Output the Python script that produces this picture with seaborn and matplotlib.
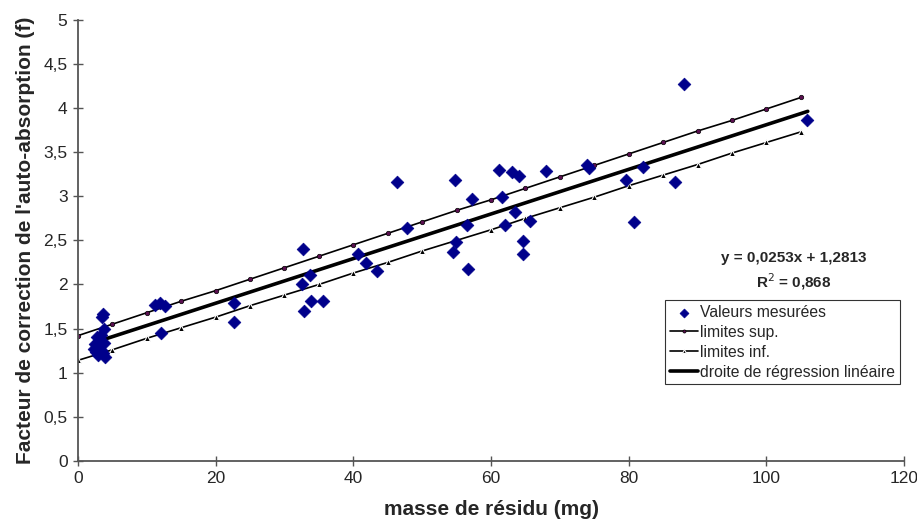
import matplotlib
matplotlib.use("Agg")
import matplotlib.pyplot as plt
import seaborn as sns
import pandas as pd

# measured values (mass of residue in mg, correction factor f)
masse = [2.3, 2.5, 2.6, 2.8, 3.0, 3.1, 3.3, 3.4, 3.6, 3.8, 4.0, 2.9,
         3.5, 3.7, 3.8,
         11.2, 11.9, 12.7, 12.0,
         22.7, 22.7,
         32.7, 33.7, 32.6, 33.9, 32.9, 35.6,
         40.7, 41.8, 43.5, 46.3, 47.8,
         54.8, 54.9, 54.5, 56.5, 56.6, 57.2,
         61.1, 63.0, 64.1, 68.0, 61.6, 63.5, 65.6, 62.0, 64.6, 64.6,
         74.0, 74.2, 79.6, 80.7, 82.0, 86.7, 88.0, 105.9]
facteur = [1.27, 1.33, 1.24, 1.40, 1.30, 1.36, 1.43, 1.26, 1.22, 1.34, 1.18, 1.20,
           1.63, 1.66, 1.50,
           1.77, 1.79, 1.76, 1.45,
           1.79, 1.57,
           2.40, 2.11, 2.01, 1.81, 1.70, 1.81,
           2.35, 2.24, 2.15, 3.16, 2.64,
           3.19, 2.48, 2.37, 2.67, 2.18, 2.97,
           3.30, 3.27, 3.23, 3.29, 2.99, 2.82, 2.72, 2.68, 2.49, 2.35,
           3.35, 3.32, 3.19, 2.71, 3.33, 3.16, 4.27, 3.87]

# confidence limits, read every 5 mg
x_lim = [0, 5, 10, 15, 20, 25, 30, 35, 40, 45, 50, 55, 60, 65, 70, 75,
         80, 85, 90, 95, 100, 105]
lim_sup = [1.42, 1.55, 1.68, 1.81, 1.93, 2.06, 2.19, 2.32, 2.45, 2.58, 2.71,
           2.84, 2.96, 3.09, 3.22, 3.35, 3.48, 3.61, 3.74, 3.86, 3.99, 4.12]
lim_inf = [1.14, 1.26, 1.39, 1.51, 1.63, 1.76, 1.88, 2.00, 2.13, 2.25, 2.38,
           2.50, 2.62, 2.75, 2.87, 2.99, 3.12, 3.24, 3.36, 3.49, 3.61, 3.73]

# regression line endpoints
x_reg = [2.3, 106.0]
y_reg = [1.340, 3.963]

x_ticks = [0, 20, 40, 60, 80, 100, 120]
y_ticks = [0, 0.5, 1, 1.5, 2, 2.5, 3, 3.5, 4, 4.5, 5]
y_ticklabels = ["0", "0,5", "1", "1,5", "2", "2,5", "3", "3,5", "4", "4,5", "5"]

sns.set_theme(style="white")
plt.rcParams['font.family'] = ['Liberation Sans', 'DejaVu Sans']

fig = plt.figure(figsize=(9.17, 5.22), dpi=100)
ax = fig.add_axes([0.085, 0.117, 0.901, 0.845])

pts = pd.DataFrame({'masse': masse, 'f': facteur})
sns.scatterplot(data=pts, x='masse', y='f', marker='D', s=42, color='#00008B',
                edgecolor='#00008B', linewidth=0.5, ax=ax, zorder=3,
                label='Valeurs mesurées')
sns.lineplot(x=x_lim, y=lim_sup, color='black', linewidth=1.2, marker='o',
             markersize=3.2, markerfacecolor='#5a1050', markeredgecolor='black',
             markeredgewidth=0.5, ax=ax, label='limites sup.')
sns.lineplot(x=x_lim, y=lim_inf, color='black', linewidth=1.2, marker='^',
             markersize=4, ax=ax, label='limites inf.')
sns.lineplot(x=x_reg, y=y_reg, color='black', linewidth=2.6, ax=ax,
             label='droite de régression linéaire')

ax.set_xlim(0, 120)
ax.set_ylim(0, 5)
ax.set_xticks(x_ticks)
ax.set_xticklabels([str(t) for t in x_ticks], fontsize=12.5)
ax.set_yticks(y_ticks)
ax.set_yticklabels(y_ticklabels, fontsize=12.5)
ax.tick_params(axis='both', direction='inout', length=7, width=1,
               color='#555555', bottom=True, left=True, pad=4)
for side in ['top', 'right']:
    ax.spines[side].set_visible(False)
for side in ['left', 'bottom']:
    ax.spines[side].set_color('#555555')
    ax.spines[side].set_linewidth(1.3)

ax.set_xlabel('masse de résidu (mg)', fontsize=15, fontweight='bold', labelpad=10)
ax.set_ylabel("Facteur de correction de l'auto-absorption (f)", fontsize=15,
              fontweight='bold', labelpad=6)

ax.text(103.9, 2.30, 'y = 0,0253x + 1,2813', ha='center', va='center',
        fontsize=11, fontweight='bold')
ax.text(103.9, 2.03, 'R$^2$ = 0,868', ha='center', va='center',
        fontsize=11, fontweight='bold')

leg = ax.legend(loc='upper right', bbox_to_anchor=(0.995, 0.365), fontsize=11.3,
                frameon=True, fancybox=False, edgecolor='black',
                handlelength=1.8, handletextpad=0.15, borderpad=0.3,
                labelspacing=0.32, borderaxespad=0, markerscale=0.7)
leg.get_frame().set_linewidth(0.8)

fig.savefig('out.png', dpi=100)
